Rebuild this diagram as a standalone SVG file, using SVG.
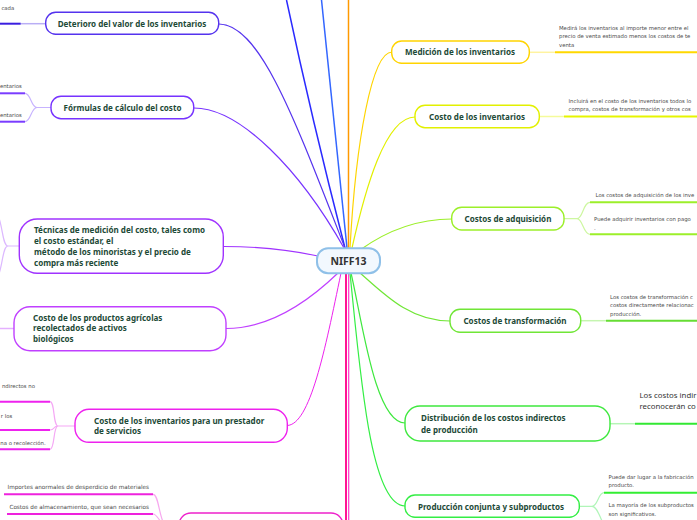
<svg xmlns="http://www.w3.org/2000/svg" width="697" height="520" viewBox="0 0 697 520">
<style>
.n{fill:#fff;stroke-width:1.4}
.t{font-family:"Noto Sans","Open Sans",sans-serif;font-weight:700;font-size:8.05px;fill:#1d4a37}
.m{text-anchor:middle}
.d{font-family:"DejaVu Sans","Liberation Sans",sans-serif;font-size:5.35px;fill:#4a4a4a}
.dl{font-size:5.7px}
.e{text-anchor:end}
.big{font-family:"Noto Sans","Open Sans",sans-serif;font-size:7.8px;fill:#333}
.c path{fill:none}
.u{fill:none;stroke-width:2}
</style>
<rect width="697" height="520" fill="#fff"/>

<g id="connectors" class="c">
  <path d="M345 248 Q312 120 286.5 0" stroke="#2a2aff" stroke-width="1.5"/>
  <path d="M347 248 L321.5 0" stroke="#3366ff" stroke-width="1.5"/>
  <path d="M348.5 248 L348.5 0" stroke="#ff9900" stroke-width="1.5"/>
  <path d="M219 24 C260 24 295 120 345 248" stroke="#5533ee" stroke-width="1.2"/>
  <path d="M194 108 C240 108 300 170 344 248" stroke="#7733ff" stroke-width="1.2"/>
  <path d="M224 246.5 C260 246.5 290 250 318 256" stroke="#a033ff" stroke-width="1.2"/>
  <path d="M226 328.5 C270 328.5 310 300 338 273" stroke="#c040ff" stroke-width="1.2"/>
  <path d="M287 425.5 C310 425 325 350 341 273" stroke="#ee22ee" stroke-width="1"/>
  <path d="M346 273 V520" stroke="#ff1493" stroke-width="2"/>
  <path d="M348.7 273 V520" stroke="#ff33cc" stroke-width="1.2"/>
  <path d="M350 248 C356 140 372 52 392 52" stroke="#ffd400" stroke-width="1.2"/>
  <path d="M352 248 C365 190 385 117 415 117" stroke="#e2f000" stroke-width="1.2"/>
  <path d="M360 250 C385 232 415 219 452 219" stroke="#9cef2a" stroke-width="1.2"/>
  <path d="M359 272 C385 295 410 321 450 321" stroke="#70e636" stroke-width="1.2"/>
  <path d="M351 273 C362 320 375 423 405 423" stroke="#3ee83e" stroke-width="1.2"/>
  <path d="M350 273 C360 370 370 506 405 506" stroke="#33ee44" stroke-width="1.2"/>
  <!-- pale sub connectors right -->
  <path d="M529.3 52.3 H555" stroke="#fff3a0" stroke-width="1.5"/>
  <path d="M539.3 116.5 H564" stroke="#f4fb9a" stroke-width="1.5"/>
  <path d="M564 218.7 H577 C583 218.7 583 202.3 590 202.3 M577 218.7 C583 218.7 583 234.3 590 234.3" stroke="#cdf7a0" stroke-width="1.2"/>
  <path d="M580.7 320.7 H606" stroke="#c5f5b0" stroke-width="1.5"/>
  <path d="M610 423.7 H635" stroke="#b5f5b5" stroke-width="1.5"/>
  <path d="M579.3 506.3 H592 C598 506.3 598 492.7 604 492.7 M592 506.3 C598 506.3 600 520 606 528" stroke="#b0f5b8" stroke-width="1.2"/>
  <!-- pale sub connectors left -->
  <path d="M45.7 23.7 H20.7" stroke="#b9aef5" stroke-width="1.5"/>
  <path d="M51 107.5 H37 C31 107.5 31 93.3 25 93.3 M37 107.5 C31 107.5 31 121.7 25 121.7" stroke="#c7b3ff" stroke-width="1.2"/>
  <path d="M19.3 246 H8 C3 246 3 230 -1 218 M8 246 C3 246 3 262 -1 274" stroke="#dcb8ff" stroke-width="1.2"/>
  <path d="M14 328.5 H-1" stroke="#e4b0ff" stroke-width="1.5"/>
  <path d="M75 426 H58 C53 426 55 401.7 50 401.7 M58 426 C53 426 55 430 50 430 M58 426 C53 426 55 449.3 50 449.3" stroke="#f5a8f5" stroke-width="1.2"/>
  <path d="M153 494.3 C160 494.3 158 525 170 530 M153 514 C158 514 160 525 170 530" stroke="#f7a8ef" stroke-width="1.2"/>
</g>

<g id="niff13">
  <rect x="317" y="248.3" width="63" height="25" rx="11" fill="#f2f8fe" stroke="#8fc0e8" stroke-width="2"/>
  <text x="348.5" y="264.5" class="m" font-family="Noto Sans, Open Sans, sans-serif" font-weight="700" font-size="10.5" fill="#333">NIFF13</text>
</g>

<!-- left nodes -->
<g id="deterioro">
  <rect x="45.7" y="12.3" width="173" height="22" rx="10" class="n" stroke="#5533ee"/>
  <text x="132" y="27" class="t m">Deterioro del valor de los inventarios</text>
</g>
<g id="deterioro-sub">
  <path d="M0 23.7 H20.7" class="u" stroke="#3a1ee0"/>
  <text x="14.3" y="10" class="d e">cada</text>
</g>

<g id="formulas">
  <rect x="51" y="96.3" width="142.7" height="22.4" rx="10" class="n" stroke="#7733ff"/>
  <text x="122.5" y="111.2" class="t m">Fórmulas de cálculo del costo</text>
</g>
<g id="formulas-sub1">
  <path d="M0 93.3 H25" class="u" stroke="#7a3cff"/>
  <text x="21.7" y="87.5" class="d e">entarios</text>
</g>
<g id="formulas-sub2">
  <path d="M0 121.7 H25" class="u" stroke="#7a3cff"/>
  <text x="21.7" y="116.5" class="d e">entarios</text>
</g>

<g id="tecnicas">
  <rect x="19.3" y="219" width="204" height="54.3" rx="18" class="n" stroke="#a033ff"/>
  <text class="t">
    <tspan x="34" y="232.7">Técnicas de medición del costo, tales como</tspan>
    <tspan x="34" y="243.7">el costo estándar, el</tspan>
    <tspan x="34" y="255">método de los minoristas y el precio de</tspan>
    <tspan x="34" y="265.7">compra más reciente</tspan>
  </text>
</g>

<g id="agricolas">
  <rect x="14" y="306.7" width="212" height="44" rx="16" class="n" stroke="#c040ff"/>
  <text class="t">
    <tspan x="33" y="320.7">Costo de los productos agrícolas</tspan>
    <tspan x="33" y="331.3">recolectados de activos</tspan>
    <tspan x="33" y="342">biológicos</tspan>
  </text>
</g>

<g id="prestador">
  <rect x="75" y="409.3" width="212.3" height="33" rx="14" class="n" stroke="#ee22ee"/>
  <text class="t">
    <tspan x="94" y="424">Costo de los inventarios para un prestador</tspan>
    <tspan x="94" y="434.3">de servicios</tspan>
  </text>
</g>
<g id="prestador-sub1">
  <path d="M0 401.7 H50" class="u" stroke="#ee22ee"/>
  <text x="35" y="388" class="d e">ndirectos no</text>
</g>
<g id="prestador-sub2">
  <path d="M0 430 H50" class="u" stroke="#ee22ee"/>
  <text x="12.3" y="417.5" class="d e">r los</text>
</g>
<g id="prestador-sub3">
  <path d="M0 449.3 H50" class="u" stroke="#ee22ee"/>
  <text x="45.7" y="444.5" class="d e">na o recolección.</text>
</g>

<g id="bottom-node">
  <rect x="179" y="513" width="164" height="40" rx="12" class="n" stroke="#ee22cc"/>
</g>
<g id="bottom-sub1">
  <path d="M4 494.3 H153" class="u" stroke="#ee22dd"/>
  <text x="149" y="489" class="d dl e">Importes anormales de desperdicio de materiales</text>
</g>
<g id="bottom-sub2">
  <path d="M7 514 H153" class="u" stroke="#ee22dd"/>
  <text x="149" y="508.8" class="d dl e">Costos de almacenamiento, que sean necesarios</text>
</g>

<!-- right nodes -->
<g id="medicion">
  <rect x="391.7" y="41" width="137.6" height="22.3" rx="10" class="n" stroke="#ffd400"/>
  <text x="460" y="55.3" class="t m">Medición de los inventarios</text>
</g>
<g id="medicion-sub">
  <path d="M555 52.3 H697" class="u" stroke="#ffd800"/>
  <text class="d">
    <tspan x="559" y="29.5">Medirá los inventarios al importe menor entre el</tspan>
    <tspan x="559" y="38">precio de venta estimado menos los costos de te</tspan>
    <tspan x="559" y="46.5">venta</tspan>
  </text>
</g>

<g id="costo-inventarios">
  <rect x="415" y="105.3" width="124.3" height="22.4" rx="10" class="n" stroke="#e2f000"/>
  <text x="477" y="119.8" class="t m">Costo de los inventarios</text>
</g>
<g id="costo-inventarios-sub">
  <path d="M564 116.5 H697" class="u" stroke="#e6f500"/>
  <text class="d">
    <tspan x="568.5" y="102.5">Incluirá en el costo de los inventarios todos lo</tspan>
    <tspan x="568.5" y="111">compra, costos de transformación y otros cos</tspan>
  </text>
</g>

<g id="adquisicion">
  <rect x="451.7" y="207.3" width="112.3" height="22.7" rx="10" class="n" stroke="#9cef2a"/>
  <text x="508" y="222.3" class="t m">Costos de adquisición</text>
</g>
<g id="adquisicion-sub1">
  <path d="M590 202.3 H697" class="u" stroke="#9cef2a"/>
  <text x="595.5" y="196.5" class="d">Los costos de adquisición de los inve</text>
</g>
<g id="adquisicion-sub2">
  <path d="M590 234.3 H697" class="u" stroke="#9cef2a"/>
  <text class="d">
    <tspan x="594" y="220.5">Puede adquirir inventarios con pago</tspan>
    <tspan x="594" y="229.5">.</tspan>
  </text>
</g>

<g id="transformacion">
  <rect x="450" y="309.3" width="130.7" height="23" rx="10" class="n" stroke="#70e636"/>
  <text x="515" y="324.2" class="t m">Costos de transformación</text>
</g>
<g id="transformacion-sub">
  <path d="M606 320.7 H697" class="u" stroke="#66dd33"/>
  <text class="d">
    <tspan x="610" y="298.5">Los costos de transformación c</tspan>
    <tspan x="610" y="307">costos directamente relacionac</tspan>
    <tspan x="610" y="316">producción.</tspan>
  </text>
</g>

<g id="distribucion">
  <rect x="405" y="406" width="205" height="35" rx="15" class="n" stroke="#3ee83e"/>
  <text class="t">
    <tspan x="421" y="421.3">Distribución de los costos indirectos</tspan>
    <tspan x="421" y="433.3">de producción</tspan>
  </text>
</g>
<g id="distribucion-sub">
  <path d="M635 423.7 H697" class="u" stroke="#33e833"/>
  <text class="big">
    <tspan x="639.5" y="397.8">Los costos indir</tspan>
    <tspan x="639.5" y="408.8">reconocerán co</tspan>
  </text>
</g>

<g id="produccion">
  <rect x="405" y="495" width="174.3" height="22.3" rx="10" class="n" stroke="#33ee44"/>
  <text x="491" y="510" class="t m">Producción conjunta y subproductos</text>
</g>
<g id="produccion-sub1">
  <path d="M604 492.7 H697" class="u" stroke="#33ee33"/>
  <text class="d">
    <tspan x="608.5" y="478.5">Puede dar lugar a la fabricación</tspan>
    <tspan x="608.5" y="487">producto.</tspan>
  </text>
</g>
<g id="produccion-sub2">
  <text class="d">
    <tspan x="608.5" y="507">La mayoría de los subproductos</tspan>
    <tspan x="608.5" y="516">son significativos.</tspan>
  </text>
</g>
</svg>
